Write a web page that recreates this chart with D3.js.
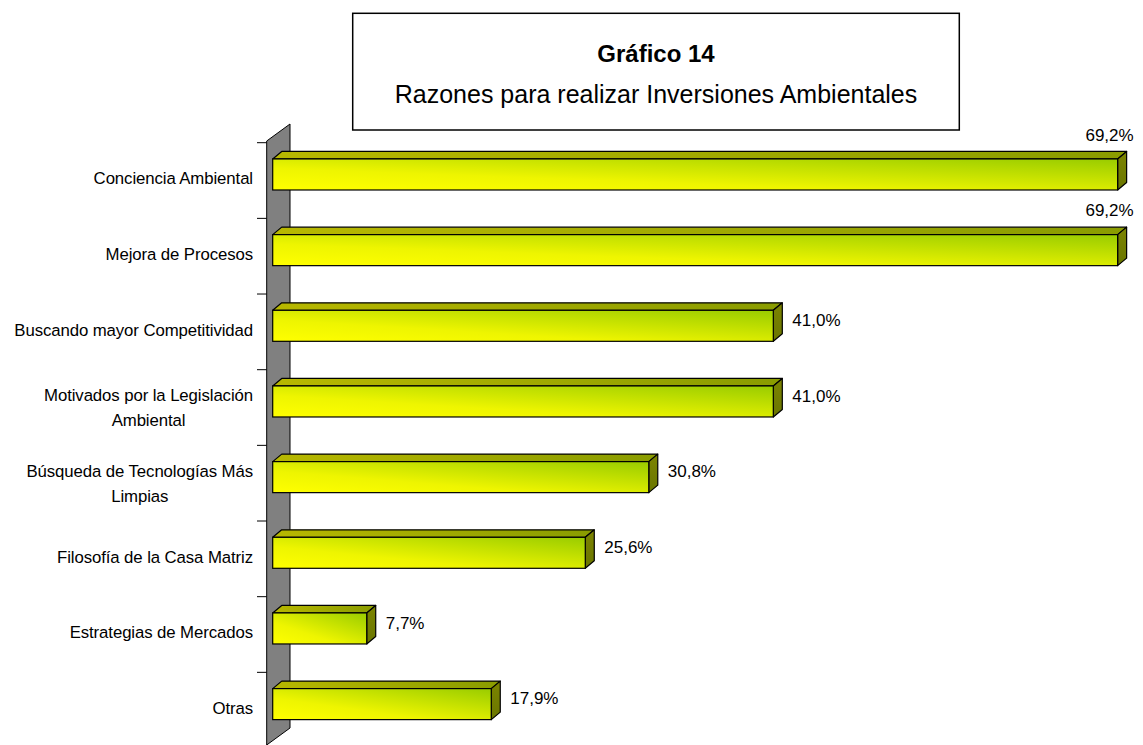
<!DOCTYPE html>
<html>
<head>
<meta charset="utf-8">
<script src="https://cdn.jsdelivr.net/npm/d3@7"></script>
<style>
  html, body { margin: 0; padding: 0; background: #fff; }
  svg { display: block; font-family: "Liberation Sans", Arial, sans-serif; }
</style>
</head>
<body>
<svg id="chart" width="1143" height="745"></svg>
<script>
const chartTitle = "Gráfico 14";
const chartSubtitle = "Razones para realizar Inversiones Ambientales";
const categories = [
  "Conciencia Ambiental",
  "Mejora de Procesos",
  "Buscando mayor Competitividad",
  "Motivados por la Legislación Ambiental",
  "Búsqueda de Tecnologías Más Limpias",
  "Filosofía de la Casa Matriz",
  "Estrategias de Mercados",
  "Otras"
];
const values = [69.2, 69.2, 41.0, 41.0, 30.8, 25.6, 7.7, 17.9];

const W = 1143, H = 745;
const svg = d3.select("#chart");

const x = d3.scaleLinear().domain([0, 70]).range([272.7, 1127.4]);
const y = d3.scaleBand().domain(categories).range([142.7, 748]);
const bw = y.bandwidth();
const dx = 9, dy = -7.5;          // bar depth
const wdx = 23.3, wdy = -17;      // wall depth
const wallX = 266.7;

const defs = svg.append("defs");
const gFront = defs.append("linearGradient").attr("id", "gFront")
  .attr("x1", 0).attr("y1", 1).attr("x2", 1).attr("y2", 0);
gFront.append("stop").attr("offset", 0).attr("stop-color", "#ffff00");
gFront.append("stop").attr("offset", 0.35).attr("stop-color", "#eef500");
gFront.append("stop").attr("offset", 1).attr("stop-color", "#99cc00");
const gTop = defs.append("linearGradient").attr("id", "gTop")
  .attr("x1", 0).attr("y1", 0).attr("x2", 1).attr("y2", 0);
gTop.append("stop").attr("offset", 0).attr("stop-color", "#b8b800");
gTop.append("stop").attr("offset", 1).attr("stop-color", "#8a9c00");
const gSide = defs.append("linearGradient").attr("id", "gSide")
  .attr("x1", 0).attr("y1", 0).attr("x2", 0).attr("y2", 1);
gSide.append("stop").attr("offset", 0).attr("stop-color", "#7c8400");
gSide.append("stop").attr("offset", 1).attr("stop-color", "#6a7600");

// Wall
const wTop = y.range()[0] - 1.7, wBot = y.range()[1] - 3;
svg.append("path")
  .attr("d", `M${wallX},${wTop} L${wallX + wdx},${wTop + wdy} L${wallX + wdx},${wBot + wdy} L${wallX},${wBot} Z`)
  .attr("fill", "#808080").attr("stroke", "#000").attr("stroke-width", 1);

// Ticks at band boundaries
svg.append("g").selectAll("line").data(categories).join("line")
  .attr("x1", wallX - 9.7).attr("x2", wallX)
  .attr("y1", d => y(d)).attr("y2", d => y(d))
  .attr("stroke", "#000").attr("stroke-width", 1);

// Bars
const bars = svg.append("g").selectAll("g").data(categories).join("g");
bars.each(function(c, i) {
  const g = d3.select(this);
  const x0 = x(0), x1 = x(values[i]);
  const t = y(c) + bw * 0.215, h = bw * 0.41;
  g.append("path")
    .attr("d", `M${x0},${t} L${x0 + dx},${t + dy} L${x1 + dx},${t + dy} L${x1},${t} Z`)
    .attr("fill", "url(#gTop)").attr("stroke", "#000").attr("stroke-width", 1.2).attr("stroke-linejoin", "round");
  g.append("path")
    .attr("d", `M${x1},${t} L${x1 + dx},${t + dy} L${x1 + dx},${t + h + dy} L${x1},${t + h} Z`)
    .attr("fill", "url(#gSide)").attr("stroke", "#000").attr("stroke-width", 1.2).attr("stroke-linejoin", "round");
  g.append("rect")
    .attr("x", x0).attr("y", t).attr("width", x1 - x0).attr("height", h)
    .attr("fill", "url(#gFront)").attr("stroke", "#000").attr("stroke-width", 1.2);
});

// Value labels
const fmt = v => v.toFixed(1).replace(".", ",") + "%";
svg.append("g").selectAll("text").data(categories).join("text")
  .attr("font-size", 17).attr("fill", "#000")
  .text((c, i) => fmt(values[i]))
  .each(function(c, i) {
    const el = d3.select(this);
    const w = this.getComputedTextLength();
    let lx = x(values[i]) + 19;
    let ly = y(c) + 26;
    if (lx + w > W - 4) {
      lx = x(values[i]) + dx + 7 - w;
      ly = y(c) - 8;
    }
    el.attr("x", lx).attr("y", ly).attr("dy", "0.35em");
  });

// Category labels (wrapped, lines centred with each other, block right aligned)
const labelRight = 253, wrapW = 250, lineH = 25;
const catG = svg.append("g").attr("font-size", 16.8).attr("letter-spacing", "-0.1px").attr("fill", "#000");
categories.forEach(c => {
  const words = c.split(" ");
  const tmp = catG.append("text").attr("visibility", "hidden");
  const lines = [];
  let cur = [];
  words.forEach(wd => {
    const test = cur.concat([wd]).join(" ");
    tmp.text(test);
    if (tmp.node().getComputedTextLength() > wrapW && cur.length) {
      lines.push(cur.join(" "));
      cur = [wd];
    } else cur.push(wd);
  });
  lines.push(cur.join(" "));
  const widths = lines.map(l => { tmp.text(l); return tmp.node().getComputedTextLength(); });
  tmp.remove();
  const maxW = d3.max(widths);
  const cx = labelRight - maxW / 2;
  const cy = y(c) + bw / 2 - (lines.length === 1 ? 2 : 0);
  const t = catG.append("text").attr("text-anchor", "middle");
  lines.forEach((l, k) => {
    t.append("tspan").attr("x", cx)
      .attr("y", cy + (k - (lines.length - 1) / 2) * lineH)
      .attr("dy", "0.35em").text(l);
  });
});

// Title box
svg.append("rect").attr("x", 352.7).attr("y", 13.3).attr("width", 606.6).attr("height", 116.7)
  .attr("fill", "#fff").attr("stroke", "#000").attr("stroke-width", 1.5);
svg.append("text").attr("x", 656).attr("y", 62).attr("text-anchor", "middle")
  .attr("font-size", 24).attr("font-weight", "bold").text(chartTitle);
svg.append("text").attr("x", 656).attr("y", 102.7).attr("text-anchor", "middle")
  .attr("font-size", 25).text(chartSubtitle);
</script>
</body>
</html>
